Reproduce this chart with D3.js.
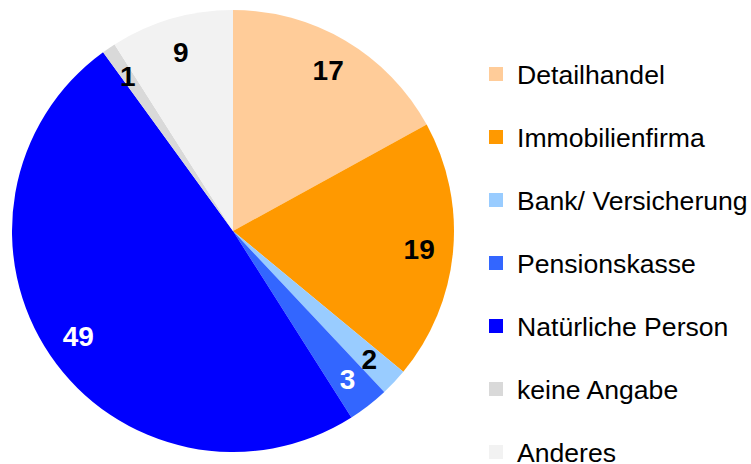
<!DOCTYPE html>
<html>
<head>
<meta charset="utf-8">
<script src="https://cdn.jsdelivr.net/npm/d3@7"></script>
<style>
  body { margin: 0; background: #fff; }
  text { font-family: "Liberation Sans", Arial, sans-serif; }
</style>
</head>
<body>
<div id="chart"></div>
<script>
const width = 751;
const height = 464;

const categories = ["Detailhandel", "Immobilienfirma", "Bank/ Versicherung", "Pensionskasse",
    "Natürliche Person", "keine Angabe", "Anderes"];
const values = [17, 19, 2, 3, 49, 1, 9];
const colors = ["#FFCC99", "#FF9900", "#99CCFF", "#3366FF", "#0000FF", "#D9D9D9", "#F2F2F2"];
const labelColors = ["#000", "#000", "#000", "#fff", "#fff", "#000", "#000"];

const data = categories.map((c, i) => ({ name: c, value: values[i], color: colors[i], label: labelColors[i] }));

var svg = d3.select("#chart")
    .append("svg")
    .attr("width", width)
    .attr("height", height);

const cx = 233, cy = 231, radius = 221;

const pie = d3.pie()
    .sort(null)
    .value(d => d.value);

const arc = d3.arc().innerRadius(0).outerRadius(radius);
const labelArc = d3.arc().innerRadius(187).outerRadius(187);

const g = svg.append("g").attr("transform", `translate(${cx},${cy})`);

g.selectAll("path")
    .data(pie(data))
    .join("path")
    .attr("d", arc)
    .attr("fill", d => d.data.color);

g.selectAll("text")
    .data(pie(data))
    .join("text")
    .attr("transform", d => `translate(${labelArc.centroid(d)})`)
    .attr("text-anchor", "middle")
    .attr("dy", "0.36em")
    .style("font-size", "28px")
    .style("font-weight", "bold")
    .attr("fill", d => d.data.label)
    .text(d => d.data.value);

// legend
const legendY = d3.scalePoint()
    .domain(categories)
    .range([74, 452]);

const legend = svg.append("g")
    .selectAll("g")
    .data(data)
    .join("g")
    .attr("transform", d => `translate(489,${legendY(d.name)})`);

legend.append("rect")
    .attr("x", 0)
    .attr("y", -7)
    .attr("width", 14)
    .attr("height", 14)
    .attr("fill", d => d.color);

legend.append("text")
    .attr("x", 28)
    .attr("dy", "0.36em")
    .style("font-size", "26.6px")
    .attr("fill", "#000")
    .text(d => d.name);
</script>
</body>
</html>
